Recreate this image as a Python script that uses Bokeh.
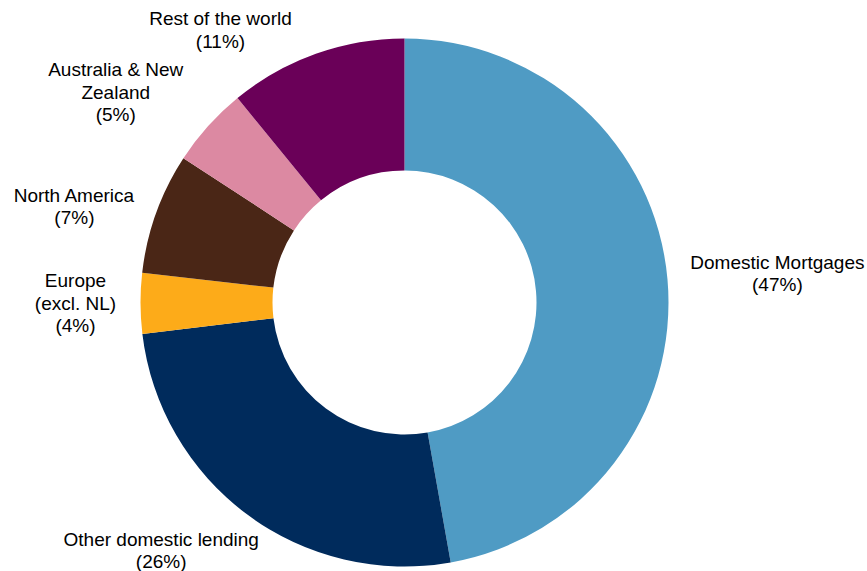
import math
from bokeh.plotting import figure
from bokeh.models import ColumnDataSource, Range1d
from bokeh.core.properties import value
from bokeh.embed import file_html
from bokeh.resources import INLINE

# ---- data ----
categories = ["Domestic Mortgages", "Other domestic lending", "Europe\n(excl. NL)",
              "North America", "Australia & New\nZealand", "Rest of the world"]
shares = [47.2, 25.9, 3.7, 7.4, 4.9, 10.9]
colors = ["#4F9BC4", "#002B5C", "#FDAB19", "#4A2616", "#DC89A2", "#6A0058"]

# ---- layout ----
W, H = 867, 571
CX, CY = 404, 269          # pie centre (data units = pixels, y up)
R_OUT, R_IN = 264, 132
R_LAB = 286
# pixel nudges of each label centre from its radial anchor (screen px, +y = down)
lab_dx = [88, -73, -43, -61, -76, -88]
lab_dy = [-4, 18, 0, 1, -19, -3]

total = sum(shares)
starts, ends, lx, ly, texts = [], [], [], [], []
cum = 0.0
for i, s in enumerate(shares):
    f0 = cum / total
    cum += s
    f1 = cum / total
    starts.append(math.pi / 2 - 2 * math.pi * f0)
    ends.append(math.pi / 2 - 2 * math.pi * f1)
    mid = 2 * math.pi * (f0 + f1) / 2   # clockwise from top
    lx.append(CX + R_LAB * math.sin(mid))
    ly.append(CY + R_LAB * math.cos(mid))
    texts.append(f"{categories[i]}\n({round(s)}%)")

src = ColumnDataSource(dict(start=starts, end=ends, color=colors))
lab = ColumnDataSource(dict(x=lx, y=ly, text=texts, dx=lab_dx, dy=lab_dy))

p = figure(width=W, height=H, output_backend="svg", toolbar_location=None,
           x_range=Range1d(0, W), y_range=Range1d(0, H), min_border=0)
p.axis.visible = False
p.grid.visible = False
p.outline_line_color = None
p.background_fill_color = "white"
p.border_fill_color = "white"

p.annular_wedge(x=CX, y=CY, inner_radius=R_IN, outer_radius=R_OUT,
                start_angle="start", end_angle="end", direction="clock",
                fill_color="color", line_color=None, source=src)

p.text(x="x", y="y", text="text", x_offset="dx", y_offset="dy", source=lab,
       text_font=value("Liberation Sans"), text_font_size="19px",
       text_color="#000000", text_align="center", text_baseline="middle",
       text_line_height=1.07)

open("out.html", "w").write(file_html(p, INLINE))
